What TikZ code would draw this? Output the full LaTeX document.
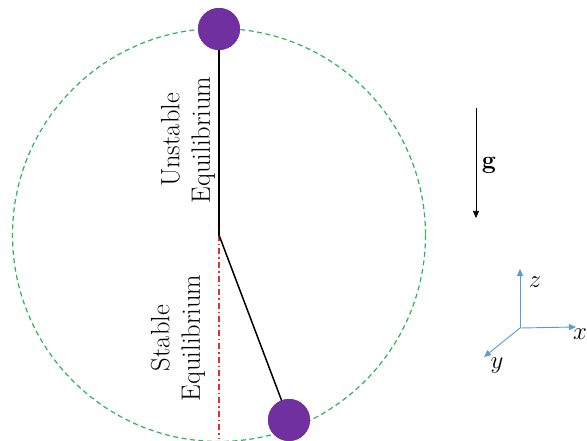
\documentclass[tikz,border=0pt]{standalone}
\usetikzlibrary{arrows.meta}
\definecolor{ballpurple}{HTML}{7030A0}
\definecolor{circgreen}{HTML}{2EB35A}
\definecolor{axblue}{HTML}{5B9BD5}
\definecolor{eqred}{HTML}{E03030}
\begin{document}
\begin{tikzpicture}[x=1pt,y=-1pt,
  ball/.style={circle,fill=ballpurple,minimum size=42pt,inner sep=0pt},
  lbl/.style={rotate=90,align=center,font=\fontsize{26.5}{30.5}\selectfont},
  axis/.style={draw=axblue,line width=0.9pt,-{Triangle[length=7pt,width=6pt]}},
  axlbl/.style={font=\fontsize{25}{26}\selectfont}]
\useasboundingbox (0,0) rectangle (587,441);
\coordinate (c) at (219,235);
\draw[circgreen,line width=1.2pt,dash pattern=on 5pt off 3.5pt] (c) circle (206.5);
\coordinate (pivot) at (219,235);
\coordinate (bot) at (219,438);
\draw[eqred,line width=1.2pt,dash pattern=on 6pt off 3pt on 1.5pt off 3pt] (pivot) -- (bot);
\node[ball] (top) at (219,29) {};
\node[ball] (low) at (289,420) {};
\draw[line width=1.5pt] (pivot) -- (top.center);
\draw[line width=1.5pt] (pivot) -- (low.center);
\node[ball] at (219,29) {};
\node[ball] at (289,420) {};
\node[lbl] (unst) at (188,140) {Unstable\\Equilibrium};
\node[lbl] (stab) at (178,338) {Stable\\Equilibrium};
% gravity
\coordinate (g1) at (476,108);
\coordinate (g2) at (476,218);
\draw[line width=0.6pt,-{Triangle[length=7pt,width=6pt]}] (g1) -- (g2);
\node[font=\fontsize{25}{26}\selectfont\bfseries] (g) at (489,165) {g};
% axes
\coordinate (o) at (520,328);
\coordinate (zt) at (520,269);
\coordinate (xt) at (576,327);
\coordinate (yt) at (484,357);
\draw[axis] (o) -- (zt);
\draw[axis] (o) -- (xt);
\draw[axis] (o) -- (yt);
\node[axlbl] (zl) at (535,282) {$z$};
\node[axlbl] (xl) at (580,334) {$x$};
\node[axlbl] (yl) at (497,366) {$y$};
\end{tikzpicture}
\end{document}
